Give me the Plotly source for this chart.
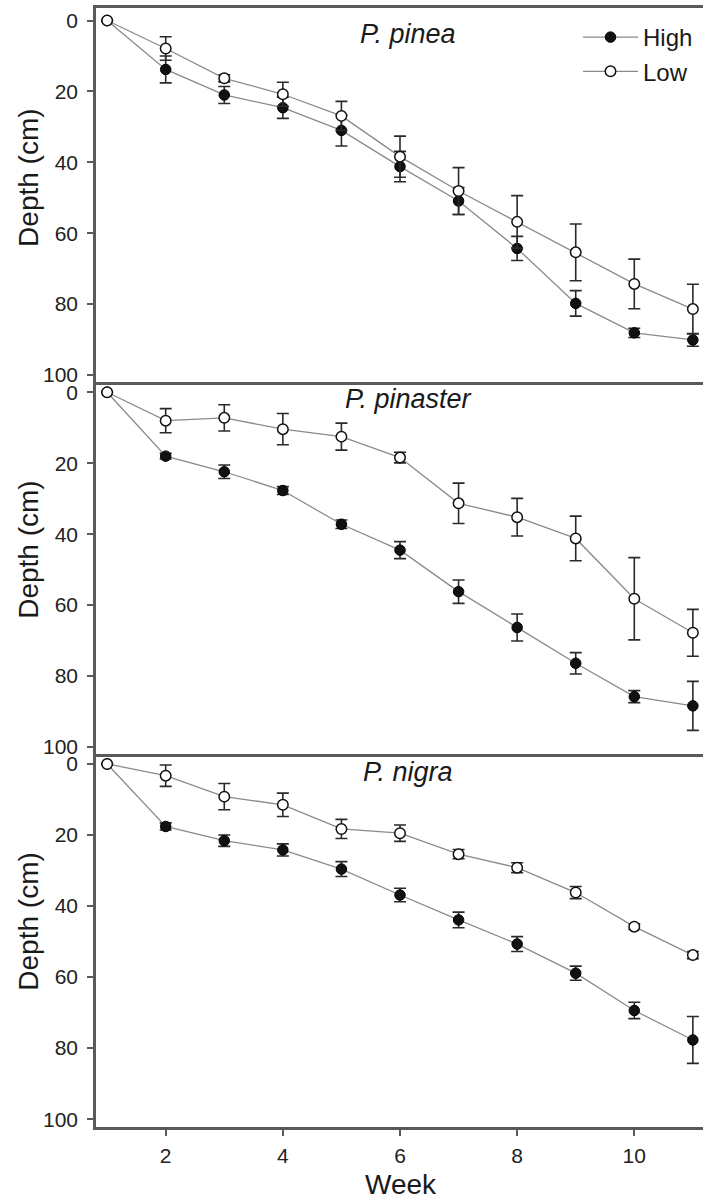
import plotly.graph_objects as go

weeks = [1, 2, 3, 4, 5, 6, 7, 8, 9, 10, 11]

# P. pinea
pinea_high = [0, 13.8, 21.0, 24.6, 31.0, 41.2, 50.9, 64.3, 79.8, 88.1, 90.1]
pinea_high_err = [0, 3.8, 2.4, 3.0, 4.4, 4.3, 3.8, 3.4, 3.6, 1.3, 1.8]
pinea_low = [0, 7.9, 16.3, 20.8, 26.9, 38.4, 48.1, 56.8, 65.4, 74.3, 81.4]
pinea_low_err = [0, 3.3, 1.0, 3.4, 4.1, 5.8, 6.6, 7.4, 8.0, 7.0, 7.0]

# P. pinaster
pinaster_high = [0, 18.0, 22.4, 27.7, 37.2, 44.5, 56.2, 66.3, 76.4, 85.8, 88.4]
pinaster_high_err = [0, 0.8, 1.9, 1.1, 1.2, 2.4, 3.3, 3.8, 3.0, 1.7, 6.9]
pinaster_low = [0, 8.0, 7.2, 10.4, 12.5, 18.4, 31.3, 35.2, 41.2, 58.2, 67.8]
pinaster_low_err = [0, 3.4, 3.7, 4.4, 3.8, 1.5, 5.7, 5.3, 6.3, 11.6, 6.6]

# P. nigra
nigra_high = [0, 17.6, 21.6, 24.2, 29.6, 36.9, 43.9, 50.7, 58.9, 69.4, 77.7]
nigra_high_err = [0, 1.0, 1.6, 1.7, 2.1, 1.9, 2.2, 2.1, 2.0, 2.3, 6.6]
nigra_low = [0, 3.3, 9.2, 11.5, 18.3, 19.5, 25.4, 29.2, 36.2, 45.8, 53.8]
nigra_low_err = [0, 3.0, 3.7, 3.3, 2.7, 2.3, 1.3, 1.4, 1.7, 0.8, 1.0]

panel_titles = ["<i>P. pinea</i>", "<i>P. pinaster</i>", "<i>P. nigra</i>"]
high_series = [pinea_high, pinaster_high, nigra_high]
high_errors = [pinea_high_err, pinaster_high_err, nigra_high_err]
low_series = [pinea_low, pinaster_low, nigra_low]
low_errors = [pinea_low_err, pinaster_low_err, nigra_low_err]

yticks = [0, 20, 40, 60, 80, 100]
xticks = [2, 4, 6, 8, 10]

W, H = 703, 1199
ML, MR, MT, MB = 96, 0, 8, 72
plot_w = W - ML - MR
plot_h = H - MT - MB
bottom_px = H - MB
boundaries = [MT, 382, 754, bottom_px]  # top of each panel in px

def py(px):
    return (bottom_px - px) / plot_h

def pxx(px):
    return (px - ML) / plot_w

domains = [[py(boundaries[i + 1]), py(boundaries[i])] for i in range(3)]
yranges = [[101.97, -3.53], [101.97, -2.9], [102.2, -2.8]]
title_y = [3.7, 1.9, 2.4]

AXC = "#5a5a5a"
LINEC = "#8a8a8a"
ERRC = "#2a2a2a"
FONT = "Liberation Sans, Arial, sans-serif"

fig = go.Figure()

for i in range(3):
    sfx = "" if i == 0 else str(i + 1)
    xa = "x" + sfx
    ya = "y" + sfx
    fig.add_trace(go.Scatter(
        x=weeks, y=high_series[i], xaxis=xa, yaxis=ya, mode="lines+markers", name="High",
        legendgroup="High", showlegend=(i == 0),
        line=dict(color=LINEC, width=1.3),
        marker=dict(symbol="circle", size=10.5, color="#111111",
                    line=dict(color="#000000", width=1)),
        error_y=dict(type="data", array=high_errors[i], visible=True, color=ERRC,
                     thickness=1.6, width=6),
    ))
    fig.add_trace(go.Scatter(
        x=weeks, y=low_series[i], xaxis=xa, yaxis=ya, mode="lines+markers", name="Low",
        legendgroup="Low", showlegend=(i == 0),
        line=dict(color=LINEC, width=1.3),
        marker=dict(symbol="circle", size=10.5, color="#ffffff",
                    line=dict(color="#111111", width=1.5)),
        error_y=dict(type="data", array=low_errors[i], visible=True, color=ERRC,
                     thickness=1.6, width=6),
    ))

    is_bottom = (i == 2)
    xaxis = dict(
        domain=[0, 1], range=[0.81, 11.173], anchor=ya,
        showline=True, linecolor=AXC, linewidth=2.5,
        mirror=(i == 0), showgrid=False, zeroline=False,
        tickvals=xticks if is_bottom else [],
        ticks="outside" if is_bottom else "", ticklen=6, tickwidth=1.5, tickcolor=AXC,
        showticklabels=is_bottom,
        tickfont=dict(family=FONT, size=21, color="#222222"),
        ticklabelstandoff=2,
    )
    if not is_bottom:
        xaxis["matches"] = "x3"
    yaxis = dict(
        domain=domains[i], range=yranges[i], anchor=xa,
        showline=True, linecolor=AXC, linewidth=2.5,
        showgrid=False, zeroline=False,
        tickvals=yticks, ticks="outside", ticklen=6, tickwidth=1.5, tickcolor=AXC,
        tickfont=dict(family=FONT, size=21, color="#222222"),
        ticklabelstandoff=5,
    )
    fig.layout["xaxis" + sfx] = xaxis
    fig.layout["yaxis" + sfx] = yaxis

    fig.add_annotation(
        text=panel_titles[i], xref="paper", yref=ya,
        x=pxx(408), y=title_y[i], showarrow=False,
        xanchor="center", yanchor="middle",
        font=dict(family=FONT, size=27, color="#1a1a1a"),
    )
    fig.add_annotation(
        text="Depth (cm)", xref="paper", yref=ya,
        x=pxx(29), y=44.4, textangle=-90, showarrow=False,
        xanchor="center", yanchor="middle",
        font=dict(family=FONT, size=28, color="#1a1a1a"),
    )

fig.add_annotation(
    text="Week", xref="paper", yref="paper",
    x=pxx(401), y=py(1184),
    showarrow=False, xanchor="center", yanchor="middle",
    font=dict(family=FONT, size=28, color="#1a1a1a"),
)

fig.update_layout(
    width=W, height=H,
    margin=dict(l=ML, r=MR, t=MT, b=MB),
    paper_bgcolor="white", plot_bgcolor="white",
    showlegend=True,
    legend=dict(
        x=pxx(578), y=py(15), xanchor="left", yanchor="top",
        font=dict(family=FONT, size=24, color="#1a1a1a"),
        bgcolor="rgba(0,0,0,0)", itemwidth=55, tracegroupgap=0,
    ),
)

fig.write_html("out.html")
